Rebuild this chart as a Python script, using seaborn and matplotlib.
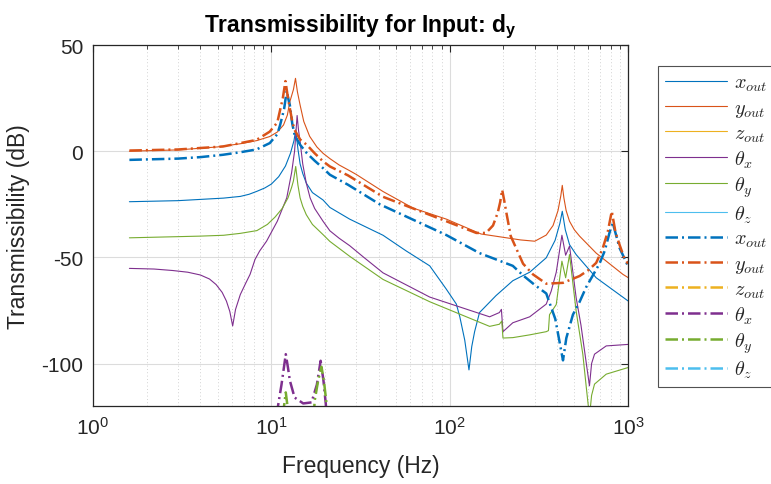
import numpy as np
import pandas as pd
import matplotlib
matplotlib.use("Agg")
import matplotlib.pyplot as plt
import seaborn as sns
from matplotlib.ticker import LogLocator, NullFormatter

# ---------------- data ----------------
# solid lines
xo_f = [1.6, 3.0, 5.4, 6.7, 7.5, 8.3, 9.2, 10.0, 11.0, 12.0, 12.8, 13.4, 13.7, 14.1, 14.5, 15.0, 15.7, 17.0,
        19.5, 21.3, 27.5, 42.3, 57.1, 77.3, 95.8, 109, 114, 121.5, 128.3, 133, 138, 147, 182, 226, 281, 348,
        390, 415, 428, 445, 470, 512, 663, 1000]
xo_db = [-23.8, -23.3, -22.1, -21.3, -20.3, -18.9, -17.3, -15.5, -12.0, -7.0, -1.0, 5.0, 10.0, 1.0, -6.0,
         -10.5, -15.0, -19.5, -23.0, -26.5, -32.0, -39.6, -47.0, -54.0, -65.0, -72.0, -78.0, -89.0, -103.0,
         -92.0, -85.0, -76.0, -68.0, -61.0, -57.0, -50.2, -42.0, -34.0, -28.3, -37.0, -44.0, -48.7, -59.6,
         -70.5]

yo_f = [1.6, 3.0, 5.0, 6.7, 8.3, 9.8, 10.8, 11.7, 12.3, 12.7, 13.3, 13.66, 14.0, 14.5, 15.2, 16.4, 18.0, 19.5,
        21.3, 24.0, 27.5, 30.0, 42.3, 62.3, 95.8, 150, 167.5, 250, 300, 348, 380, 405, 420, 428, 437, 450,
        470, 500, 535, 663, 936, 1000]
yo_db = [0.0, 0.6, 2.0, 3.5, 5.0, 6.9, 9.0, 12.3, 17.0, 23.3, 29.0, 34.3, 28.0, 21.7, 14.0, 7.0, 2.0, -1.0,
         -3.5, -6.5, -9.2, -11.0, -19.0, -26.8, -32.0, -39.0, -39.6, -41.8, -42.4, -39.5, -35.0, -28.0,
         -21.0, -16.1, -22.0, -28.0, -33.0, -37.0, -40.0, -48.0, -58.0, -59.5]

zo_f = []
zo_db = []

tx_f = [1.6, 2.2, 2.8, 3.4, 4.0, 4.5, 4.9, 5.3, 5.6, 5.85, 6.07, 6.3, 6.7, 7.2, 7.6, 8.1, 8.6, 9.4, 10.8, 12.2,
        13.0, 13.5, 13.95, 14.2, 14.5, 15.0, 15.7, 16.5, 17.5, 19.5, 21.3, 24.0, 27.5, 33.0, 42.3, 77.3, 167.5,
        190, 195, 199, 226, 281, 348, 371, 396, 426, 447, 470, 512, 545, 575, 608, 625, 649, 755, 1000]
tx_db = [-55.2, -55.5, -56.2, -57.0, -58.3, -60.2, -62.8, -66.5, -70.6, -75.5, -82.3, -74.5, -67.5, -62.0,
         -58.0, -51.0, -47.0, -42.4, -33.0, -22.0, -10.0, 0.0, 16.8, 10.0, 4.5, -6.0, -15.0, -22.0, -27.0,
         -33.0, -37.5, -41.0, -44.5, -50.0, -57.3, -68.7, -78.0, -76.0, -74.5, -85.0, -80.8, -78.0, -72.0,
         -65.9, -57.0, -39.6, -49.0, -44.7, -69.0, -82.0, -96.0, -110.5, -100.0, -95.6, -91.7, -91.0]

ty_f = [1.6, 4.0, 5.4, 6.7, 8.3, 9.5, 10.5, 11.5, 12.4, 13.0, 13.3, 13.7, 14.1, 14.5, 15.0, 15.7, 17.0, 19.5,
        21.3, 27.5, 42.3, 77.3, 167.5, 190, 196, 199, 226, 281, 348, 358, 363, 396, 426, 447, 470, 512, 558,
        585, 608, 625, 649, 755, 1000]
ty_db = [-40.8, -40.0, -39.6, -38.7, -37.4, -34.5, -31.0, -27.0, -22.0, -17.0, -14.0, -7.2, -16.0, -22.0,
         -26.0, -29.9, -34.5, -39.3, -42.5, -49.5, -60.4, -70.9, -82.5, -81.5, -80.0, -88.0, -87.8, -86.5,
         -85.0, -84.5, -77.0, -72.2, -51.8, -59.6, -48.7, -75.3, -95.6, -112.0, -125.0, -115.0, -109.7,
         -105.0, -101.9]

tz_f = []
tz_db = []

# dash-dot lines
xd_f = [1.6, 3.0, 4.0, 5.35, 6.7, 8.25, 9.8, 10.8, 11.2, 11.8, 12.2, 12.5, 12.7, 13.1, 13.5, 14.5, 15.8, 17.5,
        19.5, 21.3, 26.9, 40.5, 95.8, 147, 226, 258, 300, 348, 391, 432, 451, 491, 535, 583, 640, 692, 740,
        790, 822, 896, 1000]
xd_db = [-4.1, -3.5, -2.8, -1.7, -0.5, 0.8, 3.8, 8.0, 12.3, 20.0, 28.5, 24.0, 21.7, 13.0, 7.7, 3.0, -0.9, -4.5,
         -8.0, -11.1, -15.8, -25.0, -39.5, -48.0, -54.0, -58.5, -63.0, -67.0, -79.0, -98.5, -88.0, -77.0,
         -71.0, -64.0, -58.0, -53.0, -47.0, -38.0, -33.8, -45.5, -54.1]

yd_f = [1.6, 3.0, 5.35, 6.7, 8.25, 9.8, 10.8, 11.2, 11.6, 12.0, 12.4, 12.7, 13.1, 13.5, 14.5, 15.8, 17.5, 19.5,
        21.3, 26.9, 42.3, 95.8, 141, 160, 175, 186, 192, 197, 202, 208, 220, 258, 293, 348, 432, 535, 600, 663,
        720, 770, 811, 850, 896, 950, 1000]
yd_db = [0.3, 0.8, 2.2, 3.8, 5.3, 9.2, 13.5, 19.4, 25.0, 33.0, 25.0, 20.2, 14.0, 10.0, 5.5, 3.0, -1.0, -4.8,
         -7.2, -11.4, -21.5, -33.0, -38.5, -38.5, -35.0, -29.0, -24.0, -18.2, -23.0, -29.0, -40.0, -53.0,
         -58.0, -62.4, -62.0, -58.8, -56.0, -52.6, -46.0, -38.0, -28.3, -38.0, -44.0, -50.0, -53.0]

zd_f = []
zd_db = []

txd_f = [10.5, 10.9, 11.4, 12.05, 12.4, 12.7, 13.5, 15.1, 16.8, 18.0, 18.9, 19.6, 20.2, 20.8]
txd_db = [-135, -120, -110, -95.6, -102, -108, -116, -118.8, -118.3, -110, -98.7, -108, -119, -135]

tyd_f = [11.3, 11.7, 12.05, 12.4, 12.8, 17.0, 17.5, 18.3, 19.1, 19.7, 20.3, 20.9]
tyd_db = [-135, -122, -113.6, -122, -135, -135, -117.5, -108, -101.5, -108, -117.4, -135]

tzd_f = []
tzd_db = []

labels = [r"$x_{out}$", r"$y_{out}$", r"$z_{out}$", r"$\theta_x$", r"$\theta_y$", r"$\theta_z$"]
colors = ["#0072BD", "#D95319", "#EDB120", "#7E2F8E", "#77AC30", "#4DBEEE"]
yticks = [-100, -50, 0, 50]

# ---------------- style ----------------
sns.set_theme(style="white")
plt.rcParams['font.family'] = ['Liberation Sans', 'DejaVu Sans']
plt.rcParams['axes.unicode_minus'] = False
plt.rcParams['mathtext.fontset'] = 'custom'
plt.rcParams['mathtext.rm'] = 'Liberation Sans'
plt.rcParams['mathtext.bf'] = 'Liberation Sans:bold'
plt.rcParams['mathtext.it'] = 'Liberation Sans:italic'

W, H = 771, 485
fig = plt.figure(figsize=(W / 100, H / 100), dpi=100)
ax = fig.add_axes([93 / W, 1 - 407 / H, (628 - 93) / W, (407 - 46) / H])
ax.set_xscale('log')

solid = [(xo_f, xo_db), (yo_f, yo_db), (zo_f, zo_db), (tx_f, tx_db), (ty_f, ty_db), (tz_f, tz_db)]
dashd = [(xd_f, xd_db), (yd_f, yd_db), (zd_f, zd_db), (txd_f, txd_db), (tyd_f, tyd_db), (tzd_f, tzd_db)]

DD = (0, (5.0, 1.6, 0.8, 1.6))
handles = []
for (f, db), c in zip(solid, colors):
    if len(f):
        df = pd.DataFrame({"f": f, "db": db})
        sns.lineplot(data=df, x="f", y="db", ax=ax, color=c, lw=0.8, estimator=None, sort=False, legend=False)
    h, = ax.plot([], [], color=c, lw=0.8)
    handles.append(h)
for (f, db), c in zip(dashd, colors):
    if len(f):
        df = pd.DataFrame({"f": f, "db": db})
        sns.lineplot(data=df, x="f", y="db", ax=ax, color=c, lw=1.8, linestyle=DD, estimator=None,
                     sort=False, legend=False)
    h, = ax.plot([], [], color=c, lw=1.8, linestyle=DD)
    handles.append(h)

ax.set_xlim(1, 1000)
ax.set_ylim(-120, 50)
ax.set_yticks(yticks)
ax.xaxis.set_major_locator(LogLocator(base=10, numticks=10))
ax.xaxis.set_minor_locator(LogLocator(base=10, subs=np.arange(2, 10), numticks=100))
ax.xaxis.set_minor_formatter(NullFormatter())

axc = '#262626'
ax.tick_params(which='both', direction='in', top=True, right=True, colors=axc, labelsize=15)
ax.tick_params(which='major', length=5, width=0.8, pad=7)
ax.tick_params(which='minor', length=3, width=0.6)
for s in ax.spines.values():
    s.set_color(axc)
    s.set_linewidth(0.9)
ax.grid(True, which='major', color='#dcdcdc', lw=0.8, ls='-')
ax.grid(True, which='minor', axis='x', color='#c4c4c4', lw=0.6, ls=(0, (1, 3)))
ax.set_axisbelow(True)

ax.set_xlabel("Frequency (Hz)", fontsize=16.5, color=axc, labelpad=12)
ax.set_ylabel("Transmissibility (dB)", fontsize=16.5, color=axc, labelpad=8)
ax.set_title(r"Transmissibility for Input: $\mathbf{d_y}$", fontsize=16.5, fontweight='bold', color='black', pad=10)

leg = fig.legend(handles, labels + labels, loc='upper left', bbox_to_anchor=(658 / W, 1 - 67 / H),
                 fontsize=14.5, frameon=True, fancybox=False, edgecolor=axc, handlelength=3.1,
                 handletextpad=0.3, labelspacing=0.22, borderpad=0.35, borderaxespad=0)
leg.get_frame().set_linewidth(0.8)
leg.get_frame().set_facecolor('white')
for t in leg.get_texts():
    t.set_math_fontfamily('cm')

fig.savefig("out.png", dpi=100)
